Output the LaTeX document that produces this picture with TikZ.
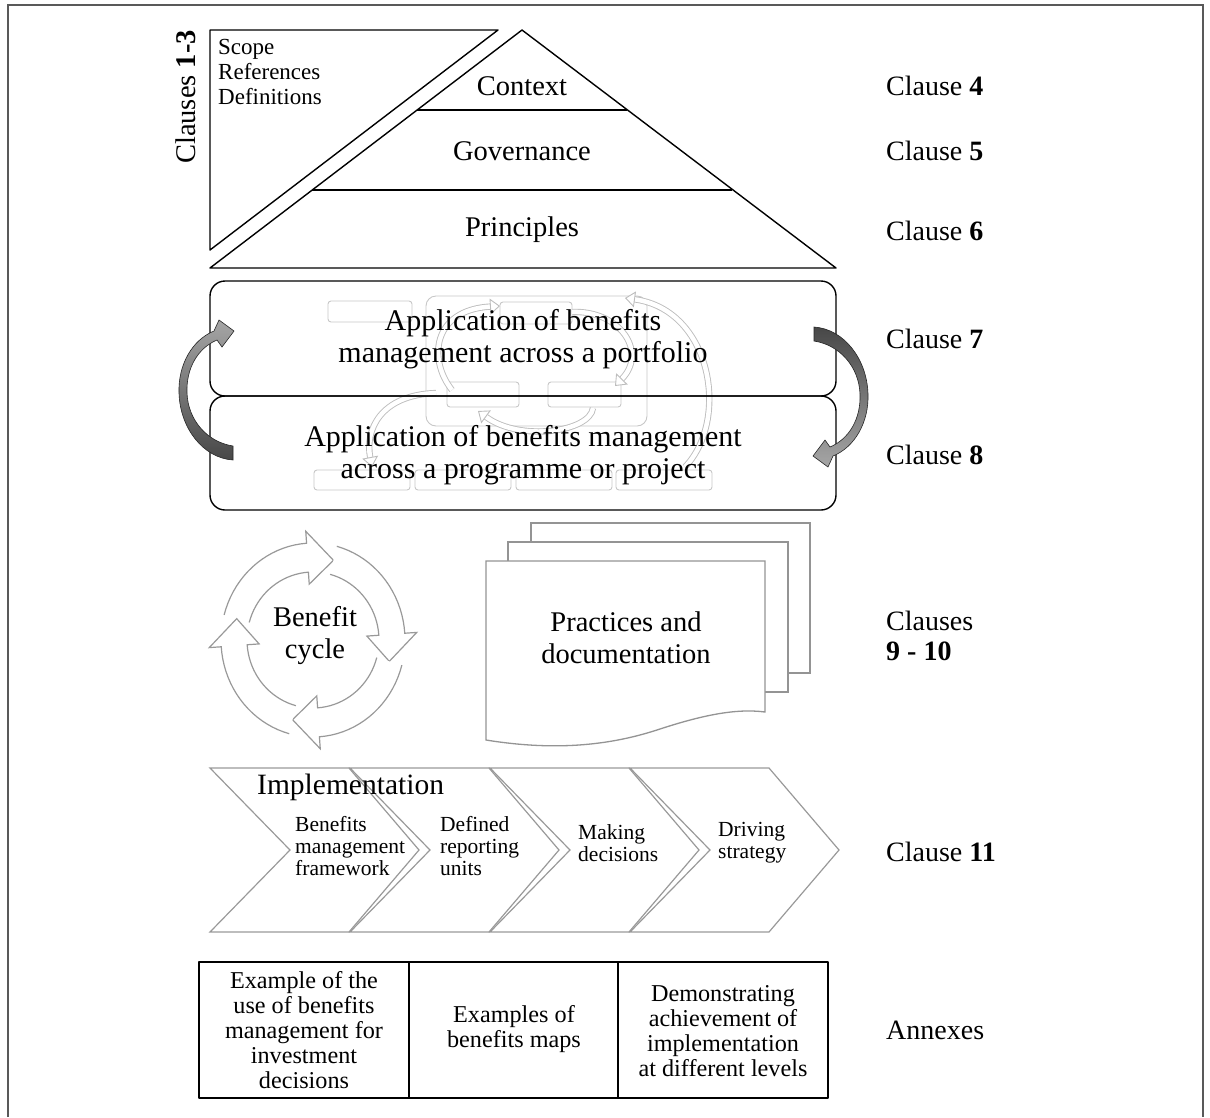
\documentclass[tikz,border=0pt]{standalone}
\usepackage{fontspec}
\setmainfont{Liberation Serif}
\usetikzlibrary{arrows.meta}
\begin{document}
\begin{tikzpicture}[x=1pt,y=-1pt,
  frameline/.style={draw=black!65, line width=2pt},
  blk/.style={draw=black, line width=1.4pt, line join=round},
  faintbox/.style={draw=black!22, line width=0.9pt, rounded corners=3pt},
  faintarrow/.style={draw=black!26, double=white, double distance=4.5pt, line width=0.9pt, -{Triangle[length=10pt,width=16pt,fill=white]}},
  darkarrow/.style={draw=black!85, line width=0.6pt},
  ringarrow/.style={draw=black!40, line width=1.2pt, fill=white, line join=miter},
  pageline/.style={draw=black!42, line width=1.3pt, fill=white},
  chevshape/.style={draw=black!40, line width=1.2pt, line join=miter},
  bigtxt/.style={font=\fontsize{28.5}{32}\selectfont, align=center, inner sep=0pt},
  apptxt/.style={font=\fontsize{30}{32}\selectfont, align=center, inner sep=0pt},
  scopetxt/.style={font=\fontsize{23}{25}\selectfont, align=left, inner sep=0pt},
  chevtxt/.style={font=\fontsize{21.5}{22}\selectfont, align=left, inner sep=0pt, anchor=west},
  annextxt/.style={font=\fontsize{24.2}{25}\selectfont, align=center, inner sep=0pt},
  clausetxt/.style={font=\fontsize{28}{30}\selectfont, align=left, inner sep=0pt, anchor=west}
]
\useasboundingbox (0,0) rectangle (1210,1117);
% outer frame
\draw[frameline] (8,1117) -- (8,5) -- (1203,5) -- (1203,1117);

% scope triangle and pyramid
\draw[blk] (210,30) -- (498,30) -- (210,250) -- cycle;
\draw[blk] (522,30) -- (836,268) -- (210,268) -- cycle;
\draw[blk] (417,110) -- (627,110);
\draw[blk] (312,190) -- (732,190);

% faint background graphic
\draw[faintbox, rounded corners=10pt] (426,296) rectangle (647,426);
\draw[faintbox] (328,301) rectangle (412,322);
\draw[faintbox] (500,302) rectangle (572,324);
\draw[faintbox] (447,382) rectangle (519,407);
\draw[faintbox] (548,382) rectangle (621,407);
\draw[faintbox] (314,470) rectangle (410,490);
\draw[faintbox] (415,470) rectangle (511,490);
\draw[faintbox] (516,470) rectangle (612,490);
\draw[faintbox] (616,470) rectangle (712,490);
\draw[faintarrow] (452,390) .. controls (428,360) and (432,310) .. (500,306);
\draw[faintarrow] (572,312) .. controls (620,310) and (648,352) .. (615,386);
\draw[faintarrow] (593,408) .. controls (590,432) and (520,442) .. (478,411);
\draw[faintarrow] (685,467) .. controls (730,420) and (712,310) .. (625,298);
\draw[faintarrow] (436,393) .. controls (380,395) and (365,430) .. (372,467);

% portfolio / programme boxes
\draw[blk, rounded corners=15pt] (210,281) rectangle (836,396);
\draw[blk, rounded corners=15pt] (210,396) rectangle (836,510);

% dark curved arrows
\path[darkarrow, top color=black!35, bottom color=black!72] (233,446) .. controls (207,442) and (188,420) .. (187,393)
   .. controls (186,368) and (198,348) .. (217,340) -- (222,347) -- (234,331) -- (219,320) -- (214,331)
   .. controls (192,340) and (178,365) .. (179,393)
   .. controls (180,428) and (203,458) .. (233,460) -- cycle;
\begin{scope}[rotate around={180:(523.5,393.5)}]
\path[darkarrow, top color=black!72, bottom color=black!35] (233,446) .. controls (207,442) and (188,420) .. (187,393)
   .. controls (186,368) and (198,348) .. (217,340) -- (222,347) -- (234,331) -- (219,320) -- (214,331)
   .. controls (192,340) and (178,365) .. (179,393)
   .. controls (180,428) and (203,458) .. (233,460) -- cycle;
\end{scope}

% benefit cycle ring
\foreach \k in {0,1,2,3}{
  \pgfmathsetmacro\tipa{-75+90*\k}
  \pgfmathsetmacro\basa{\tipa-19}
  \pgfmathsetmacro\taila{\tipa-90}
  \draw[ringarrow] plot[domain=\taila:\basa, samples=20] ({313+92*cos(\x)},{640+97*sin(\x)})
     -- ({313+104*cos(\basa)},{640+109*sin(\basa)})
     -- ({313+79*cos(\tipa)},{640+82.5*sin(\tipa)})
     -- ({313+54*cos(\basa)},{640+56*sin(\basa)})
     -- plot[domain=\basa:\taila, samples=20] ({313+66*cos(\x)},{640+68*sin(\x)});
}

% practices pages
\draw[pageline] (531,542) -- (531,523) -- (810,523) -- (810,673) -- (788,673);
\draw[pageline] (508,561) -- (508,542) -- (788,542) -- (788,692) -- (765,692);
\draw[pageline] (486,561) -- (765,561) -- (765,712)
   .. controls (735,708) and (700,716) .. (660,729)
   .. controls (615,744) and (560,752) .. (486,740) -- cycle;

% implementation chevrons
\foreach \i in {0,1,2,3}{
  \draw[chevshape] ({210+140*\i},768) -- ++(139,0) -- ++(70,82) -- ++(-70,82) -- ++(-139,0) -- ++(80,-82) -- cycle;
}

% annex boxes
\draw[blk] (199,962) rectangle (828,1098);
\draw[blk] (409,962) -- (409,1098);
\draw[blk] (618,962) -- (618,1098);

% texts
\node[bigtxt] (ctx) at (522,86) {Context};
\node[bigtxt] (gov) at (522,151) {Governance};
\node[bigtxt] (pri) at (522,230) {Principles};
\node[scopetxt, anchor=north west] (scope) at (218,39) {Scope\\References\\Definitions};
\node[bigtxt, rotate=90] (cl13) at (186,97) {Clauses \textbf{1-3}};
\node[apptxt] (port) at (523,339) {Application of benefits\\management across a portfolio};
\node[apptxt] (prog) at (523,455) {Application of benefits management\\across a programme or project};
\node[bigtxt] (bc) at (315,636) {Benefit\\cycle};
\node[bigtxt] (pd) at (626,638) {Practices and\\documentation};
\node[bigtxt, anchor=west, font=\fontsize{29.5}{32}\selectfont] (impl) at (257,787) {Implementation};
\node[chevtxt] (c1) at (295,846) {Benefits\\management\\framework};
\node[chevtxt] (c2) at (440,846) {Defined\\reporting\\units};
\node[chevtxt] (c3) at (578,843) {Making\\decisions};
\node[chevtxt] (c4) at (718,843) {Driving\\strategy};
\node[annextxt] (a1) at (304,1030) {Example of the\\use of benefits\\management for\\investment\\decisions};
\node[annextxt] (a2) at (514,1029) {Examples of\\benefits maps};
\node[annextxt] (a3) at (723,1031) {Demonstrating\\achievement of\\implementation\\at different levels};

\node[clausetxt] (k4) at (886,86) {Clause \textbf{4}};
\node[clausetxt] (k5) at (886,151) {Clause \textbf{5}};
\node[clausetxt] (k6) at (886,231) {Clause \textbf{6}};
\node[clausetxt] (k7) at (886,339) {Clause \textbf{7}};
\node[clausetxt] (k8) at (886,455) {Clause \textbf{8}};
\node[clausetxt] (k910) at (886,636) {Clauses\\\textbf{9 - 10}};
\node[clausetxt] (k11) at (886,852) {Clause \textbf{11}};
\node[clausetxt] (kan) at (886,1030) {Annexes};
\end{tikzpicture}
\end{document}
